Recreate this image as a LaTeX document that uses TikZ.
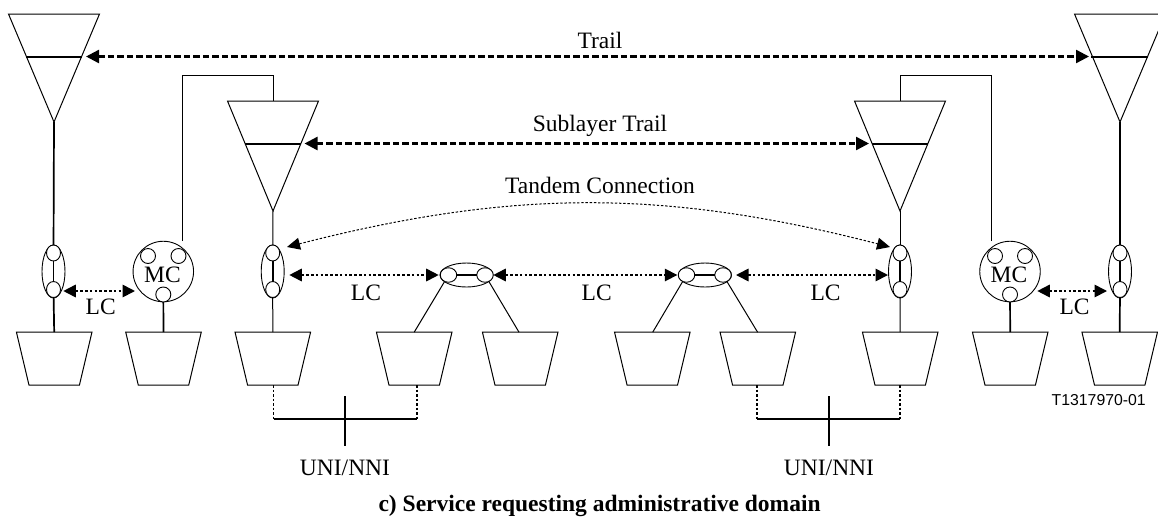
\documentclass[tikz,border=0pt]{standalone}
\usepackage{fontspec}
\setmainfont{Liberation Serif}
\newfontfamily\arialf{Liberation Sans}
\usetikzlibrary{shapes.geometric,arrows.meta}
\newcommand{\stub}{\phantom{\rule{1pt}{1pt}}}
\tikzset{
  x=1pt,y=-1pt,
  thin line/.style={line width=1pt},
  heavy/.style={line width=1.7pt},
  tri/.style={draw,thin line,isosceles triangle,isosceles triangle stretches,shape border rotate=270,minimum width=91pt,inner sep=0pt,outer sep=0pt,anchor=apex},
  trap/.style={draw,thin line,trapezium,trapezium stretches=true,trapezium angle=76,shape border rotate=180,minimum width=75.5pt,minimum height=53pt,inner sep=0pt,outer sep=0pt},
  outerv/.style={draw,line width=.9pt,ellipse,minimum width=23pt,minimum height=53pt,inner sep=0pt,outer sep=0pt},
  outerh/.style={draw,line width=.9pt,ellipse,minimum width=53pt,minimum height=24pt,inner sep=0pt,outer sep=0pt},
  port/.style={draw,line width=.9pt,ellipse,fill=white,minimum width=15pt,minimum height=15pt,inner sep=0pt,outer sep=0pt},
  vport/.style={port,minimum width=14pt,minimum height=16pt},
  hport/.style={port,minimum width=16.5pt,minimum height=14.5pt},
  mcc/.style={draw,line width=.9pt,circle,minimum size=60.5pt,inner sep=0pt,outer sep=0pt},
  bigdash/.style={line width=2.4pt,dash pattern=on 6.5pt off 3pt,{Triangle[length=13pt,width=13pt]}-{Triangle[length=13pt,width=13pt]}},
  lcarrow/.style={line width=1.7pt,dash pattern=on 2.6pt off 2.2pt,{Triangle[length=12.5pt,width=12.5pt]}-{Triangle[length=12.5pt,width=12.5pt]}},
  tandem/.style={line width=1pt,dash pattern=on 2.4pt off 1.8pt,{Triangle[length=13pt,width=12pt]}-{Triangle[length=13pt,width=12pt]}},
  lbl/.style={inner sep=0pt,anchor=base,font=\fontsize{23.5}{25}\selectfont},
  reftext/.style={inner sep=0pt,anchor=base,font=\arialf\fontsize{15.8}{17}\selectfont},
  captext/.style={inner sep=0pt,anchor=base,font=\bfseries\fontsize{23.5}{25}\selectfont},
  dotv/.style={line width=1.5pt,dash pattern=on 2.5pt off 2pt},
}
\begin{document}
\begin{tikzpicture}
\clip (0,0) rectangle (1158,520);
% triangles
\node[tri,minimum height=108pt] (t1) at (54,122) {\stub};
\node[tri,minimum height=110pt] (t2) at (273,211) {\stub};
\node[tri,minimum height=110pt] (t3) at (900,211) {\stub};
\node[tri,minimum height=108pt] (t4) at (1120,122) {\stub};
\coordinate (b1l) at (26,57); \coordinate (b1r) at (82,57);
\coordinate (b2l) at (245,144); \coordinate (b2r) at (301,144);
\coordinate (b3l) at (872,144); \coordinate (b3r) at (928,144);
\coordinate (b4l) at (1091,57); \coordinate (b4r) at (1148,57);
\foreach \p in {1,2,3,4} \draw[heavy] (b\p l) -- (b\p r);
% trapezoids
\node[trap] (p1) at (54.2,358.7) {\stub};
\node[trap] (p2) at (163.5,358.7) {\stub};
\node[trap] (p3) at (272.8,358.7) {\stub};
\node[trap] (p4) at (414.2,358.7) {\stub};
\node[trap] (p5) at (520.2,358.7) {\stub};
\node[trap] (p6) at (652.3,358.7) {\stub};
\node[trap] (p7) at (757.8,358.7) {\stub};
\node[trap] (p8) at (900.2,358.7) {\stub};
\node[trap] (p9) at (1010.2,358.7) {\stub};
\node[trap] (p10) at (1119.7,358.7) {\stub};
% vertical ellipses
\node[outerv] (e1) at (53.5,271.5) {};
\node[vport] (e1a) at (53.5,253) {};
\node[vport] (e1b) at (53.5,289.5) {};
\node[outerv] (e2) at (272.7,271.5) {};
\node[vport] (e2a) at (272.7,253) {};
\node[vport] (e2b) at (272.7,289.5) {};
\node[outerv] (e3) at (900,271.5) {};
\node[vport] (e3a) at (900,253) {};
\node[vport] (e3b) at (900,289.5) {};
\node[outerv] (e4) at (1120,271.5) {};
\node[vport] (e4a) at (1120,253) {};
\node[vport] (e4b) at (1120,289.5) {};
% horizontal ellipses
\node[outerh] (h1) at (466.5,275) {};
\node[hport] (h1a) at (448.5,275) {};
\node[hport] (h1b) at (485,275) {};
\node[outerh] (h2) at (705,275) {};
\node[hport] (h2a) at (686.5,275) {};
\node[hport] (h2b) at (723,275) {};
% matrix connections
\node[mcc] (m1) at (163.3,271.5) {};
\node[port] (m1a) at (148,256) {};
\node[port] (m1b) at (178.5,256) {};
\node[port] (m1c) at (163.3,294.5) {};
\node[lbl] (m1t) at (162.5,282.3) {MC};
\node[mcc] (m2) at (1010,271.5) {};
\node[port] (m2a) at (995,256) {};
\node[port] (m2b) at (1025,256) {};
\node[port] (m2c) at (1010,294.5) {};
\node[lbl] (m2t) at (1009,282.3) {MC};
% solid links
\coordinate (p1t) at (54.2,332.2); \coordinate (p2t) at (163.5,332.2);
\coordinate (p3t) at (272.8,332.2); \coordinate (p4t) at (414.2,332.2);
\coordinate (p5t) at (519,332.2); \coordinate (p6t) at (652.7,332.2);
\coordinate (p7t) at (757.6,332.2); \coordinate (p8t) at (900.2,332.2);
\coordinate (p9t) at (1010.2,332.2); \coordinate (p10t) at (1119.7,332.2);
\draw[heavy] (t1.apex) -- (e1a);
\draw[heavy] (e1a) -- (e1b);
\draw[heavy] (e1b) -- (p1t);
\draw[heavy] (m1c) -- (p2t);
\draw[thin line] (t2.apex) -- (e2a);
\draw[heavy] (e2a) -- (e2b);
\draw[thin line] (e2b) -- (p3t);
\draw[heavy] (h1a) -- (h1b);
\draw[heavy] (h2a) -- (h2b);
\draw[thin line] (h1a) -- (p4t);
\draw[thin line] (h1b) -- (p5t);
\draw[thin line] (h2a) -- (p6t);
\draw[thin line] (h2b) -- (p7t);
\draw[thin line] (t3.apex) -- (e3a);
\draw[heavy] (e3a) -- (e3b);
\draw[thin line] (e3b) -- (p8t);
\draw[heavy] (m2c) -- (p9t);
\draw[heavy] (t4.apex) -- (e4a);
\draw[heavy] (e4a) -- (e4b);
\draw[heavy] (e4b) -- (p10t);
% MC wires
\coordinate (w1) at (182,241); \coordinate (w1t) at (273,75); \coordinate (w1e) at (273,101);
\coordinate (w2) at (991,241); \coordinate (w2t) at (900,75); \coordinate (w2e) at (900,101);
\draw[thin line] (w1) |- (w1t) -- (w1e);
\draw[thin line] (w2) |- (w2t) -- (w2e);
% arrows
\coordinate (a1l) at (86,56.5); \coordinate (a1r) at (1089,56.5);
\draw[bigdash] (a1l) -- (a1r);
\coordinate (a2l) at (304.5,143.5); \coordinate (a2r) at (869,143.5);
\draw[bigdash] (a2l) -- (a2r);
\coordinate (a3l) at (287,247); \coordinate (a3r) at (890,247);
\draw[tandem] (a3l) .. controls (513,189) and (665,189) .. (a3r);
\coordinate (l1l) at (63.3,291); \coordinate (l1r) at (135,291);
\draw[lcarrow] (l1l) -- (l1r);
\coordinate (l2l) at (289.3,275); \coordinate (l2r) at (438.7,275);
\draw[lcarrow] (l2l) -- (l2r);
\coordinate (l3l) at (493.3,275); \coordinate (l3r) at (677.3,275);
\draw[lcarrow] (l3l) -- (l3r);
\coordinate (l4l) at (736,275); \coordinate (l4r) at (888,275);
\draw[lcarrow] (l4l) -- (l4r);
\coordinate (l5l) at (1037.3,291); \coordinate (l5r) at (1107,291);
\draw[lcarrow] (l5l) -- (l5r);
% UNI/NNI brackets
\coordinate (c1l) at (273.5,419); \coordinate (c1r) at (416.8,419);
\coordinate (c2l) at (757,419); \coordinate (c2r) at (900,419);
\coordinate (v1t) at (345,396); \coordinate (v1b) at (345,445.7);
\coordinate (v2t) at (829,396); \coordinate (v2b) at (829,445.7);
\coordinate (q1) at (273.5,385.2); \coordinate (q2) at (416.8,385.2);
\coordinate (q3) at (757,385.2); \coordinate (q4) at (900,385.2);
\draw[dotv] (q1) -- (c1l); \draw[dotv] (q2) -- (c1r);
\draw[dotv] (q3) -- (c2l); \draw[dotv] (q4) -- (c2r);
\draw[heavy] (c1l) -- (c1r); \draw[heavy] (c2l) -- (c2r);
\draw[heavy] (v1t) -- (v1b); \draw[heavy] (v2t) -- (v2b);
% labels
\node[lbl] (n1) at (600,48.3) {Trail};
\node[lbl] (n2) at (600,131.7) {Sublayer Trail};
\node[lbl] (n3) at (600,193.3) {Tandem Connection};
\node[lbl] (n4) at (100.7,314.5) {LC};
\node[lbl] (n5) at (366,300) {LC};
\node[lbl] (n6) at (596.7,300) {LC};
\node[lbl] (n7) at (825.6,300) {LC};
\node[lbl] (n8) at (1074.5,314.5) {LC};
\node[lbl] (n9) at (345,475) {UNI/NNI};
\node[lbl] (n10) at (829,475) {UNI/NNI};
\node[reftext] (n11) at (1098.7,405) {T1317970-01};
\node[captext] (n12) at (599.6,511.7) {c) Service requesting administrative domain};
\end{tikzpicture}
\end{document}
